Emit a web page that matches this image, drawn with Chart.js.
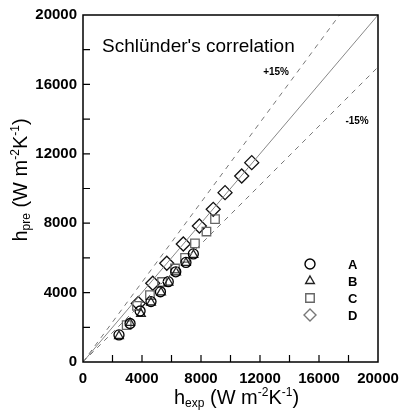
<!DOCTYPE html>
<html>
<head>
<meta charset="utf-8">
<script src="https://cdn.jsdelivr.net/npm/chart.js@4/dist/chart.umd.min.js"></script>
<style>
  html, body { margin: 0; padding: 0; background: #fff; }
  #wrap { width: 412px; height: 414px; }
</style>
</head>
<body>
<div id="wrap"><canvas id="corrChart"></canvas></div>
<script>
// measured (x) vs predicted (y) heat transfer coefficients, W m-2 K-1
const seriesNames = ['A', 'B', 'C', 'D'];
const hExpA = [2440, 3190, 3870, 4610, 5250, 5780, 6290, 6980, 7480];
const hPreA = [1560, 2220, 2940, 3480, 4050, 4630, 5200, 5740, 6230];
const hExpB = [2440, 3190, 3930, 4610, 5290, 5800, 6310, 6980, 7490];
const hPreB = [1500, 2250, 2770, 3430, 4010, 4580, 5160, 5710, 6170];
const hExpC = [2960, 3660, 4540, 5360, 6240, 6920, 7590, 8370, 8950];
const hPreC = [2130, 3230, 3860, 4610, 5390, 6000, 6840, 7520, 8230];
const hExpD = [3750, 4730, 5680, 6800, 7890, 8830, 9630, 10760, 11440];
const hPreD = [3370, 4540, 5690, 6800, 7840, 8800, 9760, 10720, 11490];

// reference lines: perfect agreement and +/-15 %
const parityX = [0, 20000];
const parityY = [0, 20000];
const plusX = [0, 17391];
const plusY = [0, 20000];
const minusX = [0, 20000];
const minusY = [0, 17000];

const axisMin = 0;
const axisMax = 20000;
const tickStep = 2000;
const labelStep = 4000;

function pts(xs, ys) {
  return xs.map((x, i) => ({ x: x, y: ys[i] }));
}

const markerStyles = [
  { pointStyle: 'circle', radius: 5, color: '#000' },
  { pointStyle: 'triangle', radius: 5, color: '#222' },
  { pointStyle: 'rect', radius: 6, color: '#666' },
  { pointStyle: 'rectRot', radius: 7, color: '#111' }
];
const seriesData = [pts(hExpA, hPreA), pts(hExpB, hPreB), pts(hExpC, hPreC), pts(hExpD, hPreD)];

const datasets = [
  { type: 'line', data: pts(parityX, parityY), borderColor: '#888', borderWidth: 1, pointRadius: 0, fill: false },
  { type: 'line', data: pts(plusX, plusY), borderColor: '#777', borderWidth: 1, borderDash: [5, 5], pointRadius: 0, fill: false },
  { type: 'line', data: pts(minusX, minusY), borderColor: '#777', borderWidth: 1, borderDash: [5, 5], pointRadius: 0, fill: false }
];
seriesData.forEach((d, i) => {
  const m = markerStyles[i];
  datasets.push({
    type: 'scatter',
    label: seriesNames[i],
    data: d,
    pointStyle: m.pointStyle,
    pointRadius: m.radius,
    pointHoverRadius: m.radius,
    backgroundColor: 'rgba(0,0,0,0)',
    borderColor: m.color,
    pointBackgroundColor: 'rgba(0,0,0,0)',
    pointBorderColor: m.color,
    pointBorderWidth: 1.3
  });
});

// draws box, inward ticks, axis titles, annotations and the legend
const decorPlugin = {
  id: 'decor',
  afterDraw(chart) {
    const ctx = chart.ctx;
    const a = chart.chartArea;
    const xs = chart.scales.x;
    const ys = chart.scales.y;
    ctx.save();

    // frame
    ctx.strokeStyle = '#000';
    ctx.lineWidth = 1.5;
    ctx.strokeRect(a.left, a.top, a.right - a.left, a.bottom - a.top);

    // inward ticks
    ctx.lineWidth = 1.2;
    ctx.beginPath();
    for (let v = axisMin + tickStep; v < axisMax; v += tickStep) {
      const px = xs.getPixelForValue(v);
      ctx.moveTo(px, a.bottom);
      ctx.lineTo(px, a.bottom - 7);
      const py = ys.getPixelForValue(v);
      ctx.moveTo(a.left, py);
      ctx.lineTo(a.left + 7, py);
    }
    ctx.stroke();

    // chart annotation
    ctx.fillStyle = '#000';
    ctx.textBaseline = 'alphabetic';
    ctx.textAlign = 'left';
    ctx.font = '19px "Liberation Sans", Arial, sans-serif';
    ctx.fillText("Schlünder's correlation", xs.getPixelForValue(1290), ys.getPixelForValue(17870));
    ctx.font = 'bold 10px "Liberation Sans", Arial, sans-serif';
    ctx.textAlign = 'center';
    ctx.textBaseline = 'middle';
    ctx.fillText('+15%', xs.getPixelForValue(13090), ys.getPixelForValue(16720));
    ctx.fillText('-15%', xs.getPixelForValue(18580), ys.getPixelForValue(13890));

    // legend
    const legX = 310, labX = 348;
    const legY = [264, 281, 298, 315];
    ctx.font = 'bold 13px "Liberation Sans", Arial, sans-serif';
    seriesNames.forEach((name, i) => {
      const m = markerStyles[i];
      ctx.fillStyle = 'rgba(0,0,0,0)';
      ctx.strokeStyle = i === 3 ? '#777' : m.color;
      ctx.lineWidth = 1.4;
      Chart.helpers.drawPoint(ctx, {
        pointStyle: m.pointStyle,
        radius: i === 3 ? 6 : m.radius,
        borderWidth: 1.4,
        rotation: 0
      }, legX, legY[i]);
      ctx.fillStyle = '#000';
      ctx.textAlign = 'left';
      ctx.fillText(name, labX, legY[i] + 1);
    });

    // axis titles with sub- and superscripts
    function richTitle(parts, cx, cy, rotate) {
      ctx.save();
      ctx.translate(cx, cy);
      if (rotate) ctx.rotate(-Math.PI / 2);
      ctx.textAlign = 'left';
      ctx.textBaseline = 'alphabetic';
      ctx.fillStyle = '#000';
      let total = 0;
      parts.forEach(p => {
        ctx.font = p.size + 'px "Liberation Sans", Arial, sans-serif';
        p.w = ctx.measureText(p.t).width;
        total += p.w;
      });
      let x = -total / 2;
      parts.forEach(p => {
        ctx.font = p.size + 'px "Liberation Sans", Arial, sans-serif';
        ctx.fillText(p.t, x, p.dy);
        x += p.w;
      });
      ctx.restore();
    }
    const big = 20, small = 12;
    richTitle([
      { t: 'h', size: big, dy: 0 },
      { t: 'exp', size: small, dy: 3 },
      { t: ' (W m', size: big, dy: 0 },
      { t: '-2', size: small, dy: -8 },
      { t: 'K', size: big, dy: 0 },
      { t: '-1', size: small, dy: -8 },
      { t: ')', size: big, dy: 0 }
    ], (a.left + a.right) / 2 + 6, 404, false);
    richTitle([
      { t: 'h', size: big, dy: 0 },
      { t: 'pre', size: small, dy: 3 },
      { t: ' (W m', size: big, dy: 0 },
      { t: '-2', size: small, dy: -8 },
      { t: 'K', size: big, dy: 0 },
      { t: '-1', size: small, dy: -8 },
      { t: ')', size: big, dy: 0 }
    ], 27, 180, true);

    ctx.restore();
  }
};

const tickFont = { family: '"Liberation Sans", Arial, sans-serif', size: 15, weight: 'bold' };

new Chart(document.getElementById('corrChart'), {
  type: 'scatter',
  data: { datasets: datasets },
  options: {
    responsive: true,
    maintainAspectRatio: false,
    animation: false,
    layout: { padding: { left: 0, top: 15, right: 34, bottom: 0 } },
    plugins: { legend: { display: false }, tooltip: { enabled: false } },
    scales: {
      x: {
        type: 'linear',
        min: axisMin,
        max: axisMax,
        grid: { display: false, drawTicks: false },
        border: { display: false },
        ticks: {
          stepSize: tickStep,
          autoSkip: false,
          maxRotation: 0,
          padding: 8,
          color: '#000',
          font: tickFont,
          callback: v => (v % labelStep === 0 ? v : '')
        },
        afterFit: s => { s.height = 52; }
      },
      y: {
        type: 'linear',
        min: axisMin,
        max: axisMax,
        grid: { display: false, drawTicks: false },
        border: { display: false },
        ticks: {
          stepSize: tickStep,
          autoSkip: false,
          padding: 6,
          color: '#000',
          font: tickFont,
          callback: v => (v % labelStep === 0 ? v : '')
        },
        afterFit: s => { s.width = 83; }
      }
    }
  },
  plugins: [decorPlugin]
});
</script>
</body>
</html>
